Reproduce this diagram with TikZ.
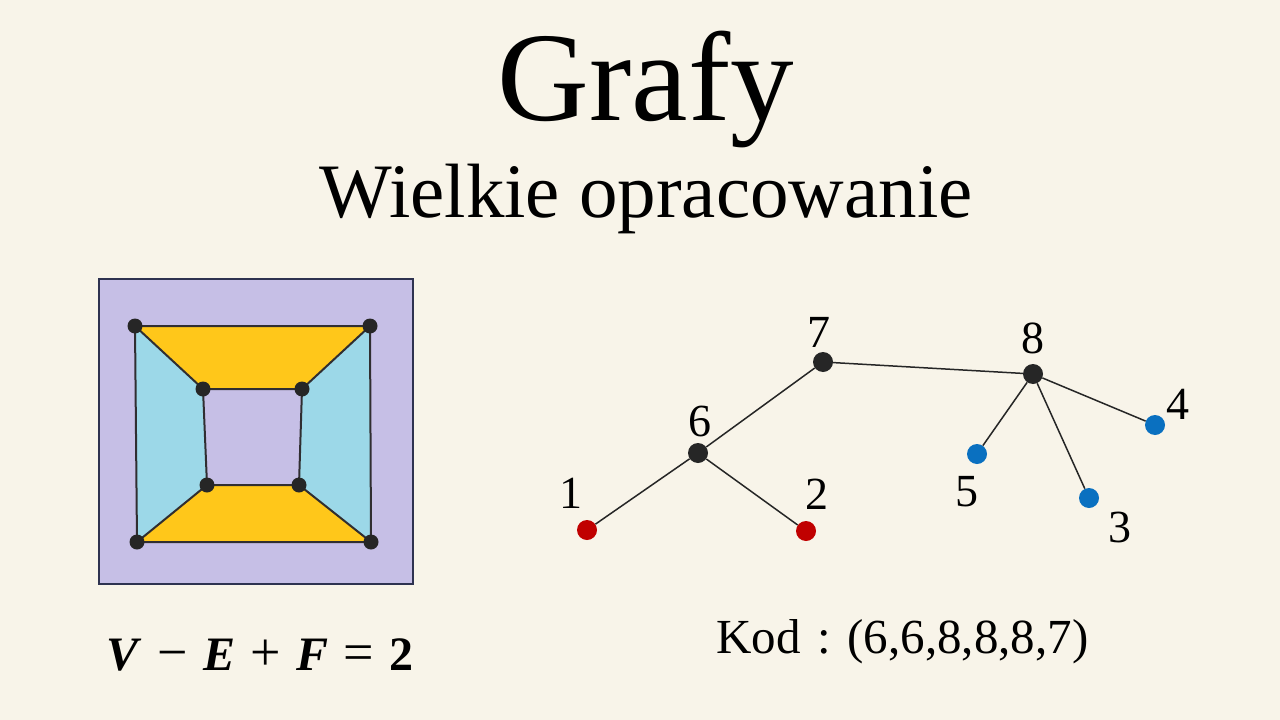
\documentclass[tikz,border=0pt]{standalone}
\usepackage{fontspec}
\setmainfont{Liberation Serif}
\begin{document}
\begin{tikzpicture}[x=1pt,y=-1pt,
  edgeline/.style={draw=black!85, line width=1.5pt},
  faceline/.style={draw=black!75!cyan!30!black, line width=2pt, line join=round},
  vdot/.style={circle, fill=black!85, inner sep=0pt, minimum size=15pt},
  tdot/.style={circle, fill=#1, inner sep=0pt, minimum size=20pt},
  tlabel/.style={font=\fontsize{46}{50}\selectfont, anchor=base, inner sep=0pt}]
\definecolor{bgc}{HTML}{F8F4E9}
\definecolor{lav}{HTML}{C6BFE6}
\definecolor{yel}{HTML}{FFC71A}
\definecolor{lblue}{HTML}{9CD8E8}
\definecolor{nred}{HTML}{C00000}
\definecolor{nblue}{HTML}{0A70C0}
\definecolor{nblack}{HTML}{262626}
\definecolor{framec}{HTML}{2E3250}
\useasboundingbox (0,0) rectangle (1280,720);
\fill[bgc] (0,0) rectangle (1280,720);
% titles
\node[anchor=base, inner sep=0pt, font=\fontsize{127}{130}\selectfont] (title) at (646,120) {Grafy};
\node[anchor=base, inner sep=0pt, font=\fontsize{77}{80}\selectfont] (subtitle) at (646,217) {Wielkie opracowanie};
% planar graph
\node[draw=framec, line width=1.2pt, fill=lav, inner sep=0pt, minimum width=314pt, minimum height=305pt] (frame) at (256,431.5) {};
\coordinate (A) at (135,326);
\coordinate (B) at (370,326);
\coordinate (C) at (371,542);
\coordinate (D) at (137,542);
\coordinate (a) at (203,389);
\coordinate (b) at (302,389);
\coordinate (c) at (299,485);
\coordinate (d) at (207,485);
\fill[yel] (A) -- (B) -- (b) -- (a) -- cycle;
\fill[yel] (d) -- (c) -- (C) -- (D) -- cycle;
\fill[lblue] (A) -- (a) -- (d) -- (D) -- cycle;
\fill[lblue] (B) -- (C) -- (c) -- (b) -- cycle;
\draw[faceline] (A) -- (B) -- (C) -- (D) -- cycle;
\draw[faceline] (a) -- (b) -- (c) -- (d) -- cycle;
\draw[faceline] (A) -- (a) (B) -- (b) (C) -- (c) (D) -- (d);
\foreach \p in {A,B,C,D,a,b,c,d} \node[vdot] at (\p) {};
\node[anchor=base, inner sep=0pt, font=\fontsize{48}{52}\selectfont] (euler) at (260,670)
  {\textbf{\textit{V}}\hspace{0.32em}{\fontsize{54}{54}\selectfont −}\hspace{0.32em}\textbf{\textit{E}}\hspace{0.32em}{\fontsize{54}{54}\selectfont +}\hspace{0.32em}\textbf{\textit{F}}\hspace{0.32em}{\fontsize{54}{54}\selectfont =}\hspace{0.32em}\textbf{2}};
% tree
\node[tdot=nblack] (n7) at (823,362) {};
\node[tdot=nblack] (n8) at (1033,374) {};
\node[tdot=nblack] (n6) at (698,453) {};
\node[tdot=nred] (n1) at (587,530) {};
\node[tdot=nred] (n2) at (806,531) {};
\node[tdot=nblue] (n5) at (977,454) {};
\node[tdot=nblue] (n3) at (1089,498) {};
\node[tdot=nblue] (n4) at (1155,425) {};
\draw[edgeline] (n1) -- (n6);
\draw[edgeline] (n6) -- (n2);
\draw[edgeline] (n6) -- (n7);
\draw[edgeline] (n7) -- (n8);
\draw[edgeline] (n8) -- (n5);
\draw[edgeline] (n8) -- (n3);
\draw[edgeline] (n8) -- (n4);
\node[tlabel] (l7) at (819,347) {7};
\node[tlabel] (l8) at (1033,353) {8};
\node[tlabel] (l6) at (700,436) {6};
\node[tlabel] (l1) at (571,508) {1};
\node[tlabel] (l2) at (817,509) {2};
\node[tlabel] (l5) at (967,506) {5};
\node[tlabel] (l3) at (1120,542) {3};
\node[tlabel] (l4) at (1178,419) {4};
\node[anchor=base west, inner sep=0pt, font=\fontsize{49}{52}\selectfont] (kod) at (716,653) {Kod\hspace{0.1em} : (6,6,8,8,8,7)};
\end{tikzpicture}
\end{document}
